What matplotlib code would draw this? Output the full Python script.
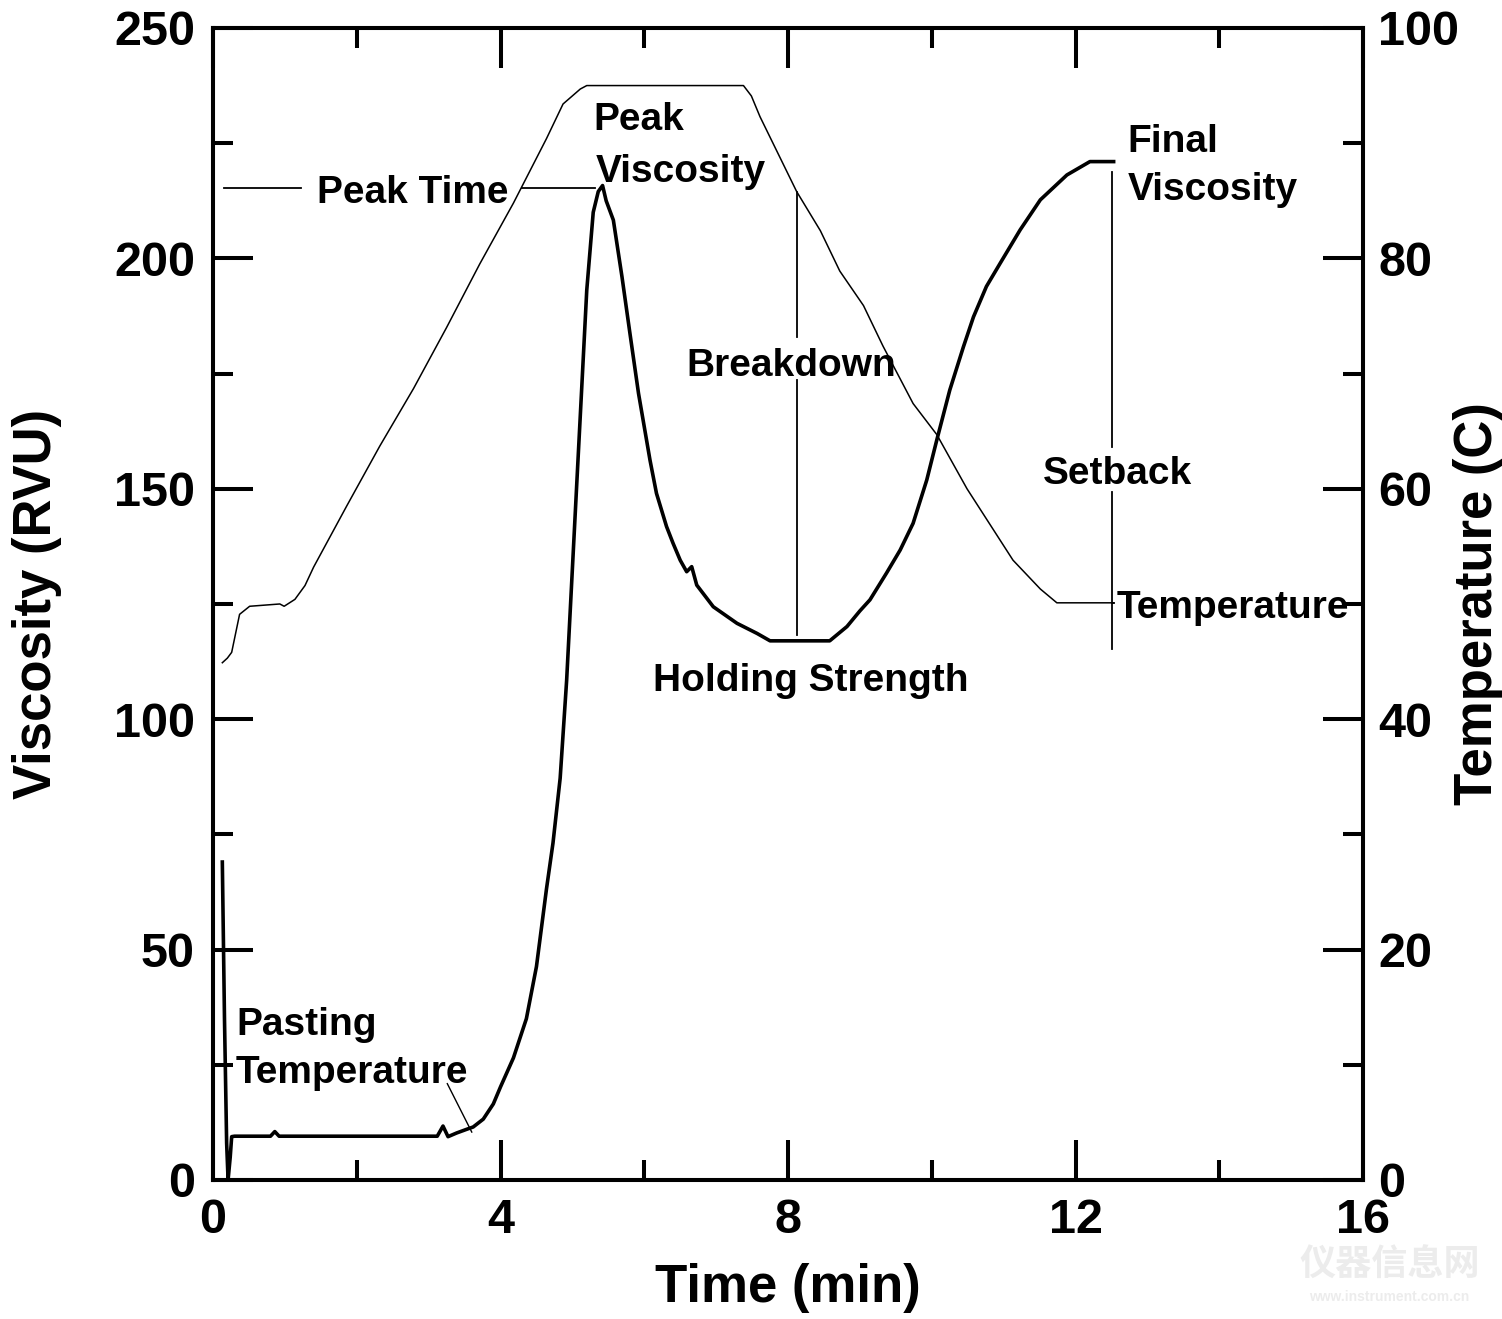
import matplotlib
matplotlib.use("Agg")
import matplotlib.pyplot as plt

plt.rcParams['font.family'] = ['Liberation Sans', 'DejaVu Sans']
plt.rcParams['font.weight'] = 'bold'
plt.rcParams['axes.labelweight'] = 'bold'

# viscosity trace (RVU) vs time (min)
visc_time = [0.13, 0.16, 0.19, 0.21, 0.24, 0.26, 0.30, 0.80, 0.86, 0.92,
             3.12, 3.20, 3.27, 3.39, 3.53, 3.62, 3.76, 3.90, 4.00, 4.18,
             4.36, 4.50, 4.64, 4.73, 4.83, 4.92, 4.99, 5.06, 5.13, 5.20,
             5.29, 5.36, 5.42, 5.47, 5.57, 5.69, 5.80, 5.92, 6.08, 6.17,
             6.31, 6.40, 6.50, 6.59, 6.66, 6.73, 6.96, 7.29, 7.57, 7.75,
             8.58, 8.82, 9.00, 9.14, 9.37, 9.56, 9.74, 9.93, 10.07, 10.25,
             10.44, 10.58, 10.76, 10.95, 11.23, 11.51, 11.88, 12.20, 12.53]
visc = [69.0, 35.0, 8.0, 0.0, 5.0, 9.4, 9.5, 9.5, 10.5, 9.5,
        9.5, 11.7, 9.4, 10.2, 11.0, 11.5, 13.2, 16.5, 20.2, 26.5,
        35.0, 46.3, 63.2, 73.1, 87.2, 108.4, 129.6, 150.8, 171.9, 193.1,
        210.0, 214.5, 215.8, 212.5, 208.3, 196.0, 183.8, 170.7, 156.2, 149.0,
        141.8, 138.2, 134.5, 132.0, 133.1, 129.1, 124.4, 120.8, 118.6, 117.0,
        117.0, 120.1, 123.5, 125.9, 131.7, 136.7, 142.5, 151.9, 160.6, 171.4,
        180.8, 187.3, 193.9, 198.9, 206.2, 212.7, 218.1, 221.0, 221.0]

# temperature profile (C)
temp_time = [0.13, 0.20, 0.26, 0.37, 0.51, 0.93, 0.99, 1.14, 1.28, 1.40,
             1.86, 2.32, 2.79, 3.25, 3.71, 4.18, 4.64, 4.87, 5.11, 5.20,
             7.38, 7.49, 7.61, 8.12, 8.45, 8.72, 9.05, 9.32, 9.74, 10.07,
             10.49, 11.13, 11.51, 11.74, 12.53]
temp = [44.9, 45.3, 45.8, 49.1, 49.8, 50.0, 49.8, 50.4, 51.6, 53.2,
        58.5, 63.7, 68.7, 74.0, 79.5, 84.8, 90.4, 93.4, 94.7, 95.0,
        95.0, 94.1, 92.3, 85.8, 82.4, 78.9, 75.9, 72.4, 67.4, 64.7,
        60.0, 53.8, 51.3, 50.1, 50.1]

fig = plt.figure(figsize=(15.02, 13.19), dpi=100)
ax = fig.add_axes([0.1418, 0.1054, 0.7657, 0.8734])
ax2 = ax.twinx()

ax.plot(visc_time, visc, color='black', lw=2.6, solid_joinstyle='round')
ax2.plot(temp_time, temp, color='black', lw=1.1)

ax.set_xlim(0, 16)
ax.set_ylim(0, 250)
ax2.set_ylim(0, 100)

ax.set_xticks([0, 4, 8, 12, 16])
ax.set_xticks([2, 6, 10, 14], minor=True)
ax.set_yticks([0, 50, 100, 150, 200, 250])
ax.set_yticks([25, 75, 125, 175, 225], minor=True)
ax2.set_yticks([0, 20, 40, 60, 80, 100])
ax2.set_yticks([10, 30, 50, 70, 90], minor=True)

for a in (ax, ax2):
    for s in a.spines.values():
        s.set_linewidth(2.9)
ax.tick_params(which='both', direction='in', width=2.9, top=True, right=False,
               labelsize=35)
ax.tick_params(which='major', length=29)
ax.tick_params(which='minor', length=14.5)
ax.tick_params(axis='x', which='major', pad=13)
ax.tick_params(axis='y', which='major', pad=13)
ax2.tick_params(which='both', direction='in', width=2.9, labelsize=35, pad=11)
ax2.tick_params(which='major', length=29)
ax2.tick_params(which='minor', length=14.5)

ax.set_xlabel('Time (min)', fontsize=38)
ax.set_ylabel('Viscosity (RVU)', fontsize=38)
ax2.set_ylabel('Temperature (C)', fontsize=38)
ax.xaxis.set_label_coords(0.5, -0.072)
ax.yaxis.set_label_coords(-0.131, 0.5)
ax2.yaxis.set_label_coords(1.078, 0.5)

fs = 28
lw_ann = 1.3

# Peak time
ax.plot([0.15, 1.23], [215.3, 215.3], color='black', lw=lw_ann)
ax.plot([4.30, 5.32], [215.3, 215.3], color='black', lw=lw_ann)
ax.text(2.78, 212.0, 'Peak Time', fontsize=fs, ha='center', va='baseline')

# Peak viscosity
ax.text(5.29, 227.9, 'Peak', fontsize=fs, ha='left', va='baseline')
ax.text(5.33, 216.6, 'Viscosity', fontsize=fs, ha='left', va='baseline')

# Breakdown
ax.plot([8.12, 8.12], [214.4, 183.0], color='black', lw=lw_ann)
ax.plot([8.12, 8.12], [173.7, 118.3], color='black', lw=lw_ann)
ax.text(8.04, 174.5, 'Breakdown', fontsize=fs, ha='center', va='baseline')

# Holding strength
ax.text(8.31, 106.1, 'Holding Strength', fontsize=fs, ha='center', va='baseline')

# Final viscosity
ax.text(12.72, 223.1, 'Final', fontsize=fs, ha='left', va='baseline')
ax.text(12.73, 212.7, 'Viscosity', fontsize=fs, ha='left', va='baseline')

# Setback
ax.plot([12.51, 12.51], [218.8, 159.1], color='black', lw=lw_ann)
ax.plot([12.51, 12.51], [149.4, 115.3], color='black', lw=lw_ann)
ax.text(12.58, 151.0, 'Setback', fontsize=fs, ha='center', va='baseline')

# Temperature label
ax2.plot([12.53, 12.51], [50.1, 50.1], color='black', lw=lw_ann)
ax2.plot([15.87, 16.0], [50.1, 50.1], color='black', lw=lw_ann)
ax2.text(12.57, 48.8, 'Temperature', fontsize=fs, ha='left', va='baseline')

# Pasting temperature
ax.plot([3.26, 3.60], [20.9, 10.4], color='black', lw=1.0)
ax.text(0.32, 31.5, 'Pasting', fontsize=fs, ha='left', va='baseline')
ax.text(0.32, 21.0, 'Temperature', fontsize=fs, ha='left', va='baseline')

# faint watermark
fig.text(0.925, 0.041, '仪器信息网', fontsize=26, color='#ececec',
         family=['Noto Sans CJK SC', 'DejaVu Sans'], weight='bold',
         ha='center', va='center')
fig.text(0.925, 0.017, 'www.instrument.com.cn', fontsize=10, color='#ececec',
         weight='bold', ha='center', va='center')

fig.savefig('out.png', dpi=100)
